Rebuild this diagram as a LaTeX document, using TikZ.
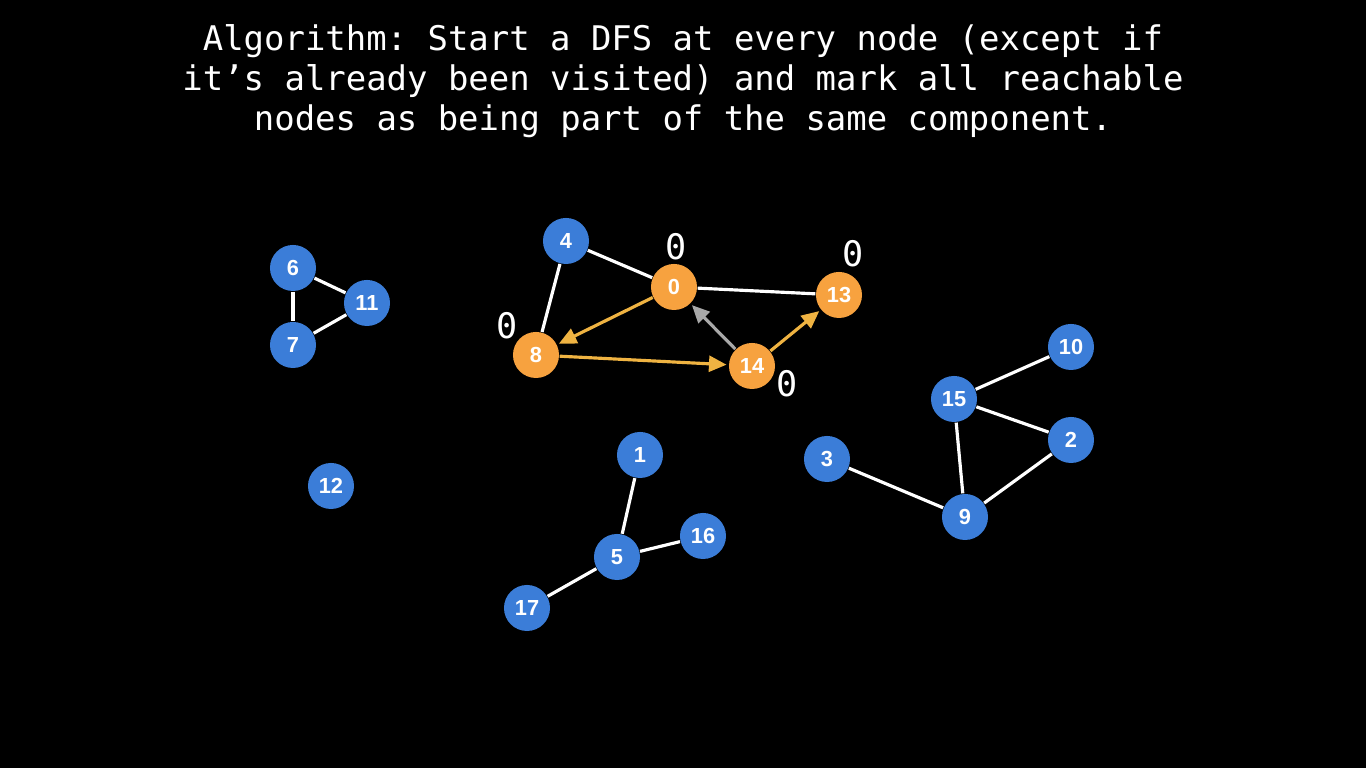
\documentclass[tikz,border=0pt]{standalone}
\usepackage{fontspec}
\setmonofont{DejaVu Sans Mono}
\setsansfont{Liberation Sans}
\usepackage{tikz}
\usetikzlibrary{graphs,arrows.meta}
\definecolor{nblue}{HTML}{3B7DD8}
\definecolor{norange}{HTML}{F7A23F}
\definecolor{aorange}{HTML}{EFB342}
\definecolor{agray}{HTML}{A8A8A8}

\begin{document}
\begin{tikzpicture}[x=0.01cm,y=-0.01cm,
	vtx/.style={circle,fill=nblue,text=white,minimum size=0.46cm,inner sep=0pt,font=\sffamily\bfseries\fontsize{6.2}{7}\selectfont},
	seen/.style={vtx,fill=norange},
	tag/.style={text=white,font=\ttfamily\fontsize{10}{11}\selectfont},
	every edge/.style={draw=white,line width=0.9pt},
	dfs/.style={draw=aorange,-{Triangle[length=5pt,width=4.5pt]},shorten >=0.5pt},
	back/.style={draw=agray,-{Triangle[length=5pt,width=4.5pt]},shorten >=0.5pt}]
	\fill[black] (0,0) rectangle (1366,768);
	\useasboundingbox (0,0) rectangle (1366,768);
	\node[text=white,align=center,font=\ttfamily\fontsize{9.65}{11.38}\selectfont] (title) at (683,81)
		{Algorithm: Start a DFS at every node (except if\\it’s already been visited) and mark all reachable\\nodes as being part of the same component.};
	% nodes
	\node[vtx] (6) at (293,268) {6};
	\node[vtx] (11) at (367,303) {11};
	\node[vtx] (7) at (293,345) {7};
	\node[vtx] (12) at (331,486) {12};
	\node[vtx] (4) at (566,241) {4};
	\node[seen] (0) at (674,287) {0};
	\node[seen] (13) at (839,295) {13};
	\node[seen] (8) at (536,355) {8};
	\node[seen] (14) at (752,366) {14};
	\node[vtx] (10) at (1071,347) {10};
	\node[vtx] (15) at (954,399) {15};
	\node[vtx] (2) at (1071,440) {2};
	\node[vtx] (3) at (827,459) {3};
	\node[vtx] (9) at (965,517) {9};
	\node[vtx] (1) at (640,455) {1};
	\node[vtx] (5) at (617,557) {5};
	\node[vtx] (16) at (703,536) {16};
	\node[vtx] (17) at (527,608) {17};
	% component ids
	\node[tag] (t0) at (676,247) {0};
	\node[tag] (t13) at (853,254) {0};
	\node[tag] (t8) at (507,326) {0};
	\node[tag] (t14) at (787,384) {0};
	\graph [use existing nodes] {
	6 -- {11,7}; 7 -- 11;
	4 -- {0,8};
	0 -- 13;
	0 ->[dfs] 8;
	8 ->[dfs] 14;
	14 ->[dfs] 13;
	14 ->[back] 0;
	15 -- {10,2,9};
	9 -- {2,3};
	5 -- {1,16,17};
	};
\end{tikzpicture}
\end{document}
